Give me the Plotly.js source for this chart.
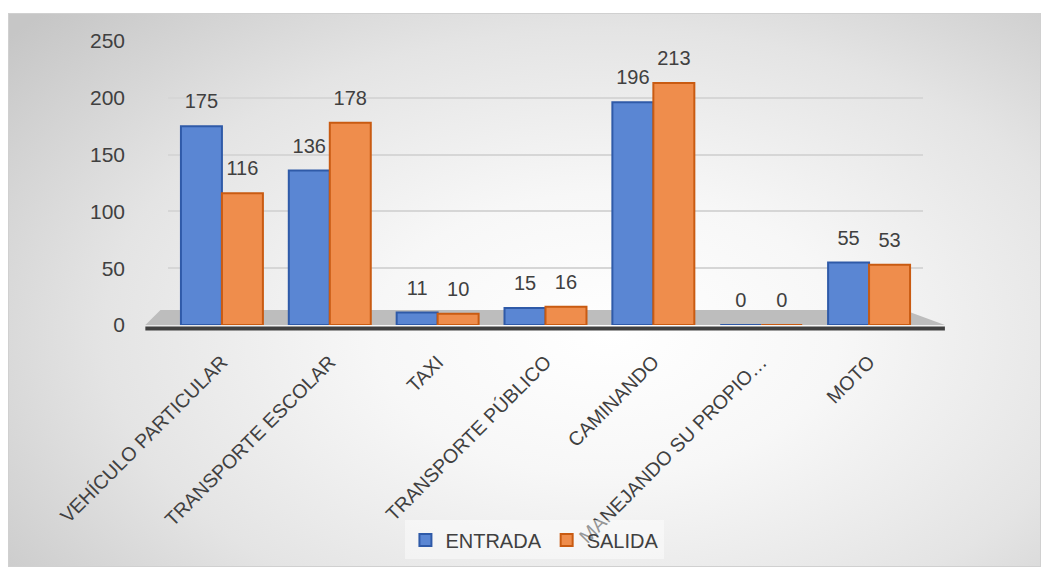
<!DOCTYPE html>
<html>
<head>
<meta charset="utf-8">
<script src="https://cdn.plot.ly/plotly-3.0.1.min.js"></script>
<style>
  html, body { margin:0; padding:0; background:#ffffff; width:1047px; height:572px; overflow:hidden; }
  #bg { position:absolute; left:8px; top:13px; width:1031px; height:552px;
        border:1px solid #d0d0d0;
        background: radial-gradient(ellipse 75% 85% at 58% 58%, #ffffff 0%, #f7f7f7 30%, #e4e4e4 65%, #c6c6c6 100%); }
  #chart { position:absolute; left:0; top:0; width:1047px; height:572px; }
</style>
</head>
<body>
<div id="bg"></div>
<div id="chart"></div>
<script>
const categories = ["VEHÍCULO PARTICULAR", "TRANSPORTE ESCOLAR", "TAXI", "TRANSPORTE PÚBLICO", "CAMINANDO", "MANEJANDO SU PROPIO…", "MOTO"];
const entrada = [175, 136, 11, 15, 196, 0, 55];
const salida = [116, 178, 10, 16, 213, 0, 53];
const seriesNames = ["ENTRADA", "SALIDA"];
const yTicks = [0, 50, 100, 150, 200, 250];

const font = "Liberation Sans, Arial, sans-serif";
const textColor = "#404040";
// label text with a small blank line underneath to lift it above the bar (3D top in the original)
const lbl = v => "<span style='font-size:20px'>" + v + "</span><br> ";

const traces = [
  {
    type: "bar", name: seriesNames[0], x: categories, y: entrada,
    text: entrada.map(lbl), textposition: "outside", cliponaxis: false,
    textfont: {family: font, size: 10, color: textColor},
    marker: {color: "#5a86d3", line: {color: "#2f5aa8", width: 2}}
  },
  {
    type: "bar", name: seriesNames[1], x: categories, y: salida,
    text: salida.map(lbl), textposition: "outside", cliponaxis: false,
    textfont: {family: font, size: 10, color: textColor},
    marker: {color: "#ef8d4c", line: {color: "#c95b12", width: 2}}
  }
];

const layout = {
  width: 1047, height: 572,
  margin: {l: 168, r: 124, t: 41, b: 247},
  paper_bgcolor: "rgba(0,0,0,0)",
  plot_bgcolor: "rgba(0,0,0,0)",
  barmode: "group", bargap: 0.24, bargroupgap: 0,
  showlegend: true,
  legend: {
    orientation: "h", x: 0.486, y: -0.757, xanchor: "center", yanchor: "middle",
    font: {family: font, size: 20, color: textColor},
    bgcolor: "rgba(255,255,255,0.45)", itemwidth: 30, tracegroupgap: 0
  },
  xaxis: {
    type: "category", tickangle: -45, showgrid: false, zeroline: false, showline: false,
    tickfont: {family: font, size: 19.5, color: textColor}, ticks: "", automargin: false,
    ticklabelstandoff: 21
  },
  yaxis: {
    range: [0, 250], tickvals: yTicks, ticktext: yTicks.map(String),
    showgrid: true, gridcolor: "#d6d6d6", gridwidth: 2, zeroline: false, showline: false,
    tickfont: {family: font, size: 21, color: textColor}, ticks: "",
    ticklabelstandoff: 42, automargin: false
  },
  shapes: [
    {type: "path", xref: "paper", yref: "paper", layer: "below",
     path: "M -0.010 0.053 L 0.975 0.053 L 1.029 0.0 L -0.030 0.0 Z",
     fillcolor: "#bdbdbd", line: {width: 0}},
    {type: "line", xref: "paper", yref: "paper", layer: "below",
     x0: -0.030, x1: 1.029, y0: -0.012, y1: -0.012,
     line: {color: "#404040", width: 4}}
  ]
};

Plotly.newPlot("chart", traces, layout, {displayModeBar: false, staticPlot: true});
</script>
</body>
</html>
